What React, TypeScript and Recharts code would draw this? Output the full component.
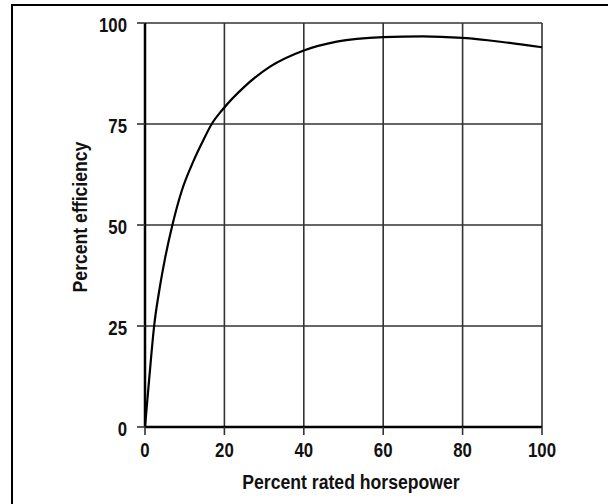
import React from 'react'
import { LineChart, Line, XAxis, YAxis, CartesianGrid, Label } from 'recharts'

// Motor efficiency vs load
const horsepower = [0, 1.1, 2.3, 3.8, 5, 6.9, 9.2, 12.2, 14.5, 16.8, 19.4, 25, 31.5, 40, 48.3, 60, 70, 80, 90, 100]
const efficiency = [0, 12.4, 25, 35, 41.5, 50, 58.3, 65.8, 70.6, 75, 78.4, 84.2, 89.2, 93.2, 95.4, 96.5, 96.7, 96.3, 95.3, 94]
const xTicks = [0, 20, 40, 60, 80, 100]
const yTicks = [0, 25, 50, 75, 100]

const data = horsepower.map((hp, i) => ({ hp, eff: efficiency[i] }))

// no narrow font installed, so squeeze Liberation Sans Bold horizontally
const FONT = '"Liberation Sans", Arial, sans-serif'
const SQUEEZE = 0.84

function NarrowText({ x, y, anchor, dy, size, children, rotate = 0 }: any) {
  return (
    <g transform={`translate(${x}, ${y}) rotate(${rotate}) scale(${SQUEEZE}, 1)`}>
      <text x={0} y={0} dy={dy} textAnchor={anchor} fontFamily={FONT} fontSize={size} fontWeight={700} fill="#111">
        {children}
      </text>
    </g>
  )
}

const XTick = ({ x, y, payload }: any) => (
  <NarrowText x={x} y={y} anchor="middle" dy="0.71em" size={20}>
    {payload.value}
  </NarrowText>
)

const YTick = ({ x, y, payload }: any) => (
  <NarrowText x={x} y={y + 2} anchor="end" dy="0.355em" size={20}>
    {payload.value}
  </NarrowText>
)

export default function App() {
  return (
    <div style={{ position: 'absolute', left: 0, top: 0, width: 608, height: 504, overflow: 'hidden', background: '#fff' }}>
      <div
        style={{
          position: 'absolute',
          left: 11,
          top: 4,
          width: 620,
          height: 520,
          borderLeft: '2.5px solid #000',
          borderTop: '2.5px solid #000',
        }}
      />
      <LineChart
        width={608}
        height={504}
        data={data}
        margin={{ top: 23, right: 66, bottom: 0, left: 0 }}
        style={{ position: 'absolute', left: 0, top: 0 }}
      >
        <CartesianGrid stroke="#333" strokeWidth={1.6} horizontalValues={yTicks} verticalValues={xTicks} />
        <XAxis
          dataKey="hp"
          type="number"
          domain={[0, 100]}
          ticks={xTicks}
          height={77}
          tickSize={8}
          tickMargin={8}
          tick={<XTick />}
          axisLine={{ stroke: '#000', strokeWidth: 2.5 }}
          tickLine={{ stroke: '#333', strokeWidth: 1.6 }}
        >
          <Label
            content={() => (
              <NarrowText x={351} y={489} anchor="middle" size={21}>
                Percent rated horsepower
              </NarrowText>
            )}
          />
        </XAxis>
        <YAxis
          type="number"
          domain={[0, 100]}
          ticks={yTicks}
          width={145}
          tickSize={8}
          tickMargin={10}
          tick={<YTick />}
          axisLine={{ stroke: '#000', strokeWidth: 2.5 }}
          tickLine={{ stroke: '#333', strokeWidth: 1.6 }}
        >
          <Label
            content={() => (
              <NarrowText x={80} y={217} anchor="middle" dy="0.355em" size={21} rotate={-90}>
                Percent efficiency
              </NarrowText>
            )}
          />
        </YAxis>
        <Line
          type="monotone"
          dataKey="eff"
          stroke="#000"
          strokeWidth={2.2}
          dot={false}
          isAnimationActive={false}
        />
      </LineChart>
    </div>
  )
}
